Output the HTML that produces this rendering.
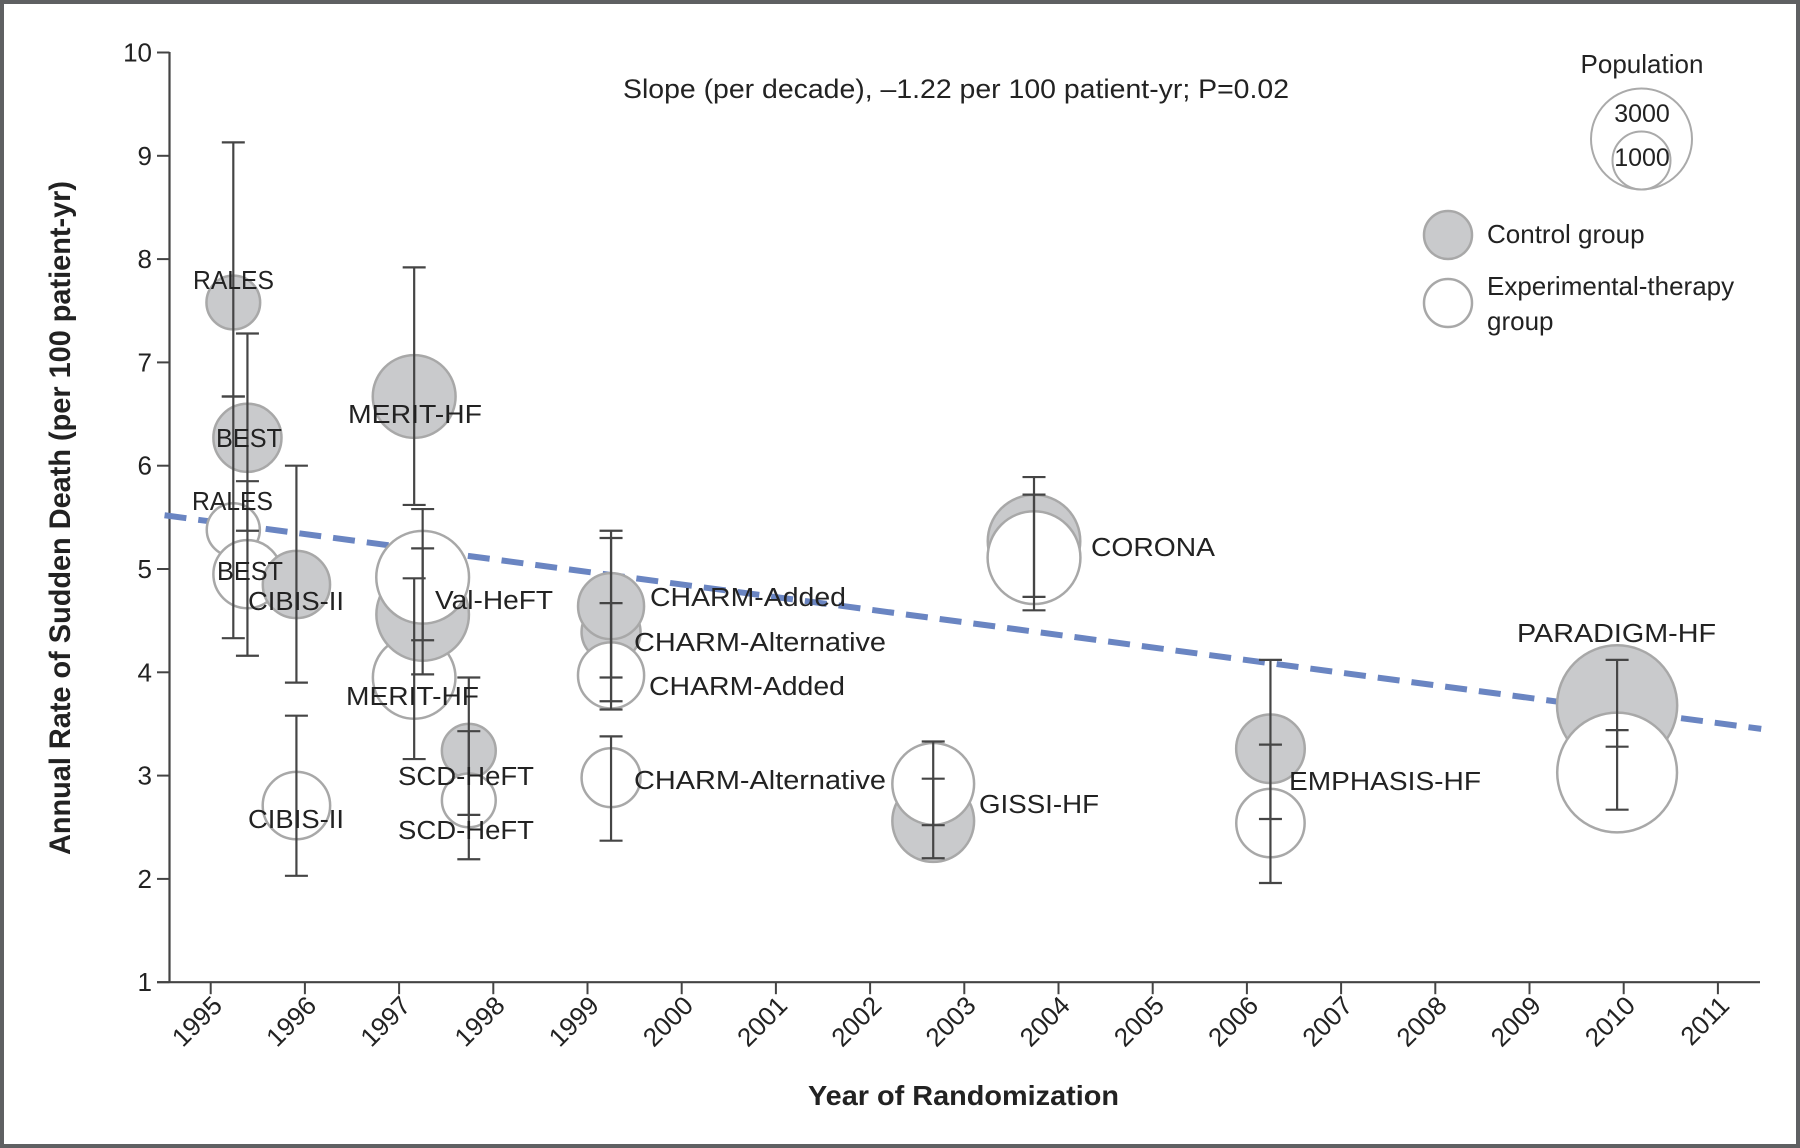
<!DOCTYPE html>
<html><head><meta charset="utf-8"><style>
html,body{margin:0;padding:0;background:#fff;}
svg{display:block;}
text{font-family:"Liberation Sans",sans-serif;fill:#222;}
</style></head><body>
<svg id="chart" width="1800" height="1148" viewBox="0 0 1800 1148" xmlns="http://www.w3.org/2000/svg">
<rect x="2" y="2" width="1796" height="1144" fill="#fff" stroke="#5f6062" stroke-width="4"/>
<g id="axes"></g>
<g id="trend"></g>
<g id="circles"></g>
<g id="bars"></g>
<g id="labels"></g>
<text x="623" y="98" font-size="27" textLength="666" lengthAdjust="spacingAndGlyphs">Slope (per decade), –1.22 per 100 patient-yr; P=0.02</text>
<text x="808" y="1105" font-size="28" font-weight="bold" textLength="311" lengthAdjust="spacingAndGlyphs">Year of Randomization</text>
<text transform="translate(70,855) rotate(-90)" x="0" y="0" font-size="30" font-weight="bold" textLength="674" lengthAdjust="spacingAndGlyphs">Annual Rate of Sudden Death (per 100 patient-yr)</text>
<g>
<text x="1642" y="73" font-size="26" text-anchor="middle">Population</text>
<circle cx="1641.5" cy="139" r="50.5" fill="none" stroke="#aaa" stroke-width="2"/>
<circle cx="1641.5" cy="160.5" r="29" fill="none" stroke="#aaa" stroke-width="2"/>
<text x="1642" y="122" font-size="25" text-anchor="middle">3000</text>
<text x="1642" y="166" font-size="25" text-anchor="middle">1000</text>
<circle cx="1448" cy="235" r="24" fill="#c9cacc" stroke="#a8a8a8" stroke-width="2.5"/>
<text x="1487" y="243" font-size="26">Control group</text>
<circle cx="1448" cy="303" r="24" fill="#fff" stroke="#a8a8a8" stroke-width="2.5"/>
<text x="1487" y="295" font-size="26">Experimental-therapy</text>
<text x="1487" y="330" font-size="26">group</text>
</g>
</svg>
<script>
// ---- data ----
const trials = ["RALES","BEST","CIBIS-II","MERIT-HF","Val-HeFT","SCD-HeFT","CHARM-Alternative","CHARM-Added","GISSI-HF","CORONA","EMPHASIS-HF","PARADIGM-HF"];
const years = [1995.24,1995.39,1995.91,1997.16,1997.25,1997.74,1999.25,1999.25,2002.67,2003.74,2006.25,2009.93];
const ctrlRate = [7.58,6.27,4.85,6.67,4.56,3.24,4.39,4.64,2.56,5.27,3.26,3.68];
const ctrlLo = [6.67,5.37,3.90,5.62,3.98,2.62,3.72,3.95,2.20,4.73,2.58,3.28];
const ctrlHi = [9.13,7.28,6.00,7.92,5.20,3.95,5.30,5.37,2.97,5.89,4.12,4.12];
const ctrlPop = [841,1354,1320,2001,2499,847,1015,1272,1950,2497,1373,4212];
const expRate = [5.38,4.95,2.71,3.95,4.92,2.76,2.98,3.97,2.92,5.11,2.54,3.03];
const expLo = [4.33,4.16,2.03,3.16,4.31,2.19,2.37,3.64,2.52,4.60,1.96,2.67];
const expHi = [6.67,5.85,3.58,4.91,5.58,3.43,3.38,4.67,3.33,5.72,3.30,3.44];
const expPop = [822,1354,1327,1990,2511,845,1013,1276,1950,2514,1364,4187];
const yTicks = [1,2,3,4,5,6,7,8,9,10];
const xTicks = [1995,1996,1997,1998,1999,2000,2001,2002,2003,2004,2005,2006,2007,2008,2009,2010,2011];
const trendYears = [1994.51,2011.46];
const trendStart = 5.52;
const trendSlopePerDecade = -1.22;
const labelText = ["RALES","BEST","RALES","BEST","CIBIS-II","MERIT-HF","Val-HeFT","CHARM-Added","CHARM-Alternative","MERIT-HF","CHARM-Added","CIBIS-II","SCD-HeFT","SCD-HeFT","CHARM-Alternative","CORONA","GISSI-HF","EMPHASIS-HF","PARADIGM-HF"];

const NS="http://www.w3.org/2000/svg";
const X=yr=>210.7+(yr-1995)*94.2;
const Y=v=>52.5+(10-v)*103.3;
const R=n=>50.7*Math.sqrt(n/3000);
function mk(tag,attrs,parent){const e=document.createElementNS(NS,tag);for(const k in attrs)e.setAttribute(k,attrs[k]);parent.appendChild(e);return e;}

const axes=document.getElementById('axes');
let a=mk('line',{x1:169.5,y1:52,x2:169.5,y2:Y(1),stroke:'#444','stroke-width':2.2},axes);


a=mk('line',{x1:157,y1:Y(1),x2:1760,y2:Y(1),stroke:'#444','stroke-width':2.2},axes);


yTicks.forEach(v=>{
  const t=mk('line',{x1:157,y1:Y(v),x2:169.5,y2:Y(v),stroke:'#444','stroke-width':2},axes);
  
  
  const l=mk('text',{x:152,y:Y(v)+9,'font-size':26,'text-anchor':'end'},axes);
  l.textContent=v;
  
  
});
xTicks.forEach(yr=>{
  const t=mk('line',{x1:X(yr),y1:Y(1),x2:X(yr),y2:Y(1)+12,stroke:'#444','stroke-width':2},axes);
  
  
  const l=mk('text',{transform:`translate(${X(yr)+13},${Y(1)+25}) rotate(-45)`,'font-size':26,'text-anchor':'end'},axes);
  l.textContent=yr;
  
  
});

const tv=yr=>trendStart+trendSlopePerDecade/10*(yr-trendYears[0]);
const tl=mk('line',{x1:X(trendYears[0]),y1:Y(tv(trendYears[0])),x2:X(trendYears[1]),y2:Y(tv(trendYears[1])),stroke:'#6a85c2','stroke-width':6,'stroke-dasharray':'22 12'},document.getElementById('trend'));



const cg=document.getElementById('circles');
const bg=document.getElementById('bars');
function bar(x,lo,hi,name){
  const g=mk('g',{stroke:'#454545','stroke-width':2.2},bg);
  
  
  mk('line',{x1:x,y1:Y(lo),x2:x,y2:Y(hi)},g);
  mk('line',{x1:x-11.5,y1:Y(lo),x2:x+11.5,y2:Y(lo)},g);
  mk('line',{x1:x-11.5,y1:Y(hi),x2:x+11.5,y2:Y(hi)},g);
}
trials.forEach((t,i)=>{
  const x=X(years[i]);
  const c=mk('circle',{cx:x,cy:Y(ctrlRate[i]),r:R(ctrlPop[i]),fill:'#c9cacc',stroke:'#a8a8a8','stroke-width':2.5},cg);
  
  
  const e=mk('circle',{cx:x,cy:Y(expRate[i]),r:R(expPop[i]),fill:'#fff',stroke:'#a8a8a8','stroke-width':2.5},cg);
  
  
  bar(x,ctrlLo[i],ctrlHi[i],'control-error-bar-'+t.toLowerCase());
  bar(x,expLo[i],expHi[i],'experimental-error-bar-'+t.toLowerCase());
});

const labelPos=[[193,289,81],[216,447,66],[192,510,81],[217,580,66],[248,610,96],[348,423,134],[435,609,118],[650,606,196],[634,651,252],[346,705,133],[649,695,196],[248,828,96],[398,785,136],[398,839,136],[634,789,252],[1091,556,124],[979,813,120],[1289,790,192],[1517,642,199]];
const lg=document.getElementById('labels');
labelText.forEach((s,i)=>{
  const p=labelPos[i];
  const l=mk('text',{x:p[0],y:p[1],'font-size':25.5,textLength:p[2],lengthAdjust:'spacingAndGlyphs'},lg);
  l.textContent=s;
  
  
});
</script>
</body></html>
